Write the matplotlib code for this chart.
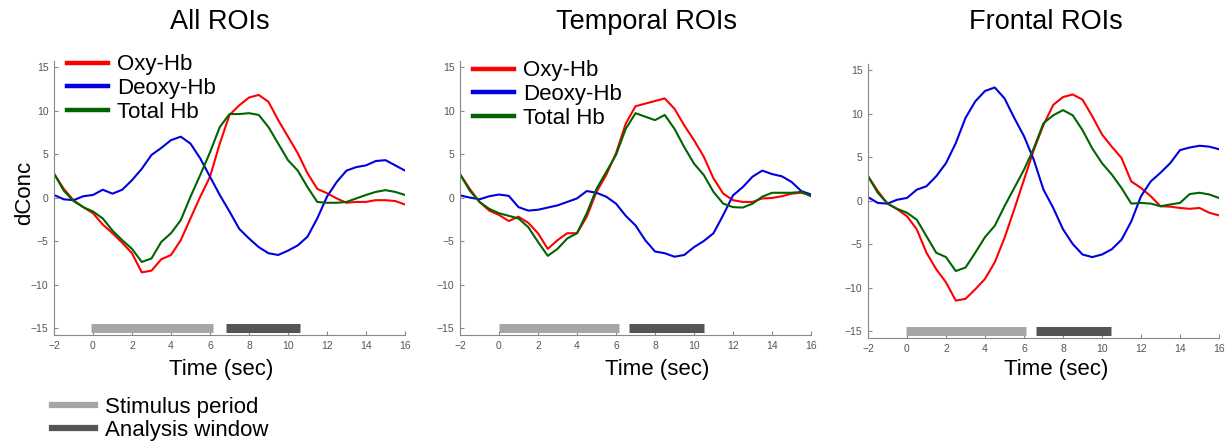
import matplotlib.pyplot as plt
from matplotlib.lines import Line2D

plt.rcParams['font.family'] = ['Liberation Sans', 'DejaVu Sans']

# time grid (sec)
t = [-2, -1.5, -1, -0.5, 0, 0.5, 1, 1.5, 2, 2.5, 3, 3.5, 4, 4.5, 5, 5.5, 6, 6.5,
     7, 7.5, 8, 8.5, 9, 9.5, 10, 10.5, 11, 11.5, 12, 12.5, 13, 13.5, 14, 14.5,
     15, 15.5, 16]

# All ROIs
all_oxy = [2.76, 1.0, -0.3, -1.1, -1.8, -3.1, -4.1, -5.2, -6.4, -8.6, -8.4, -7.1,
           -6.6, -4.9, -2.4, 0.1, 2.4, 6.2, 9.5, 10.6, 11.5, 11.8, 11.0, 8.9, 7.0,
           5.1, 2.8, 1.0, 0.5, -0.1, -0.6, -0.5, -0.5, -0.3, -0.3, -0.4, -0.8]
all_deoxy = [0.3, -0.2, -0.3, 0.15, 0.3, 0.9, 0.45, 0.9, 2.0, 3.3, 4.9, 5.7, 6.6,
             7.0, 6.2, 4.5, 2.4, 0.3, -1.6, -3.6, -4.7, -5.7, -6.4, -6.6, -6.1,
             -5.5, -4.5, -2.4, 0.1, 1.8, 3.1, 3.5, 3.7, 4.2, 4.3, 3.7, 3.1]
all_total = [2.76, 0.8, -0.4, -1.1, -1.6, -2.4, -3.8, -4.9, -5.9, -7.4, -7.0, -5.1,
             -4.1, -2.6, 0.1, 2.6, 5.2, 8.1, 9.6, 9.6, 9.7, 9.5, 8.1, 6.2, 4.3,
             3.1, 1.2, -0.5, -0.6, -0.6, -0.5, -0.1, 0.3, 0.65, 0.85, 0.65, 0.3]

# Temporal ROIs
tmp_oxy = [2.7, 1.0, -0.5, -1.5, -2.0, -2.7, -2.2, -2.9, -4.1, -5.9, -4.9, -4.1,
           -4.1, -2.2, 0.65, 2.6, 5.1, 8.5, 10.5, 10.8, 11.1, 11.4, 10.2, 8.3, 6.6,
           4.7, 2.2, 0.45, -0.3, -0.5, -0.5, -0.1, -0.05, 0.15, 0.45, 0.55, 0.3]
tmp_deoxy = [0.25, 0.0, -0.2, 0.15, 0.35, 0.2, -1.1, -1.5, -1.4, -1.15, -0.9, -0.5,
             -0.1, 0.75, 0.55, 0.1, -0.7, -2.1, -3.2, -4.9, -6.2, -6.4, -6.8, -6.6,
             -5.7, -5.0, -4.1, -2.0, 0.25, 1.2, 2.4, 3.1, 2.7, 2.45, 1.8, 0.75, 0.35]
tmp_total = [2.7, 0.8, -0.5, -1.3, -1.8, -2.1, -2.4, -3.4, -5.1, -6.7, -5.9, -4.7,
             -4.1, -1.8, 1.0, 2.95, 4.9, 7.9, 9.7, 9.3, 8.9, 9.5, 7.9, 5.8, 3.9,
             2.6, 0.65, -0.7, -1.1, -1.15, -0.7, 0.1, 0.55, 0.55, 0.55, 0.65, 0.15]

# Frontal ROIs
fr_oxy = [2.8, 1.1, -0.35, -1.0, -1.8, -3.3, -6.0, -7.9, -9.4, -11.5, -11.3, -10.2,
          -9.0, -7.1, -4.3, -1.0, 2.4, 5.8, 8.7, 11.0, 11.9, 12.2, 11.6, 9.7, 7.6,
          6.2, 4.9, 2.2, 1.45, 0.5, -0.65, -0.7, -0.85, -0.95, -0.85, -1.4, -1.7]
fr_deoxy = [0.4, -0.27, -0.35, 0.1, 0.3, 1.25, 1.65, 2.8, 4.3, 6.6, 9.5, 11.4, 12.6,
            13.0, 11.75, 9.5, 7.4, 4.7, 1.25, -0.85, -3.3, -5.0, -6.2, -6.5, -6.2,
            -5.6, -4.5, -2.4, 0.5, 2.2, 3.2, 4.3, 5.8, 6.1, 6.3, 6.2, 5.9]
fr_total = [2.8, 0.9, -0.35, -0.95, -1.4, -2.2, -4.1, -6.0, -6.5, -8.1, -7.7, -6.0,
            -4.2, -2.9, -0.65, 1.45, 3.55, 6.0, 8.9, 9.8, 10.4, 9.8, 8.1, 6.0, 4.3,
            3.0, 1.45, -0.35, -0.27, -0.35, -0.65, -0.45, -0.27, 0.75, 0.9, 0.7, 0.3]

titles = ['All ROIs', 'Temporal ROIs', 'Frontal ROIs']
oxy = [all_oxy, tmp_oxy, fr_oxy]
deoxy = [all_deoxy, tmp_deoxy, fr_deoxy]
total = [all_total, tmp_total, fr_total]
stim = [(-0.1, 6.15), (0.02, 6.17), (-0.03, 6.1)]
window = [(6.8, 10.6), (6.68, 10.5), (6.63, 10.48)]

W, H = 1226, 442
fig = plt.figure(figsize=(W / 100, H / 100), dpi=100)

# axes boxes in pixels: left, bottom (px from top)
boxes = [(54, 335), (460, 335), (868, 338)]
ax_w, ax_h = 351, 274
title_x = [220, 646, 1046]
xlabel_x = [221, 657, 1056]

for i, (left, bottom) in enumerate(boxes):
    ax = fig.add_axes([left / W, 1 - bottom / H, ax_w / W, ax_h / H])
    ax.plot(t, oxy[i], color='#ff0000', lw=1.5)
    ax.plot(t, deoxy[i], color='#0000e0', lw=1.5)
    ax.plot(t, total[i], color='#006400', lw=1.5)
    ax.hlines(-15, *stim[i], color='#a6a6a6', lw=6.5)
    ax.hlines(-15, *window[i], color='#555555', lw=6.5)

    ax.set_xlim(-2, 16)
    ax.set_ylim(-15.8, 15.7)
    ax.set_xticks(range(-2, 17, 2))
    ax.set_yticks([-15, -10, -5, 0, 5, 10, 15])
    ax.set_xticklabels([str(v).replace('-', '\u2212') for v in range(-2, 17, 2)])
    ax.set_yticklabels([str(v).replace('-', '\u2212') for v in [-15, -10, -5, 0, 5, 10, 15]])
    for s in ['top', 'right']:
        ax.spines[s].set_visible(False)
    for s in ['left', 'bottom']:
        ax.spines[s].set_color('#888888')
    ax.tick_params(direction='in', length=3, width=0.8, color='#888888',
                   labelsize=7.5, labelcolor='#555555', pad=4)

    fig.text(title_x[i] / W, 1 - 22 / H, titles[i], fontsize=19.5,
             ha='center', va='center')
    fig.text(xlabel_x[i] / W, 1 - 370 / H, 'Time (sec)', fontsize=16,
             ha='center', va='center')

    if i < 2:
        top_y = [1.024, 1.002][i]
        leg_handles = [Line2D([], [], color=c, lw=3.2) for c in ['#ff0000', '#0000e0', '#006400']]
        ax.legend(leg_handles, ['Oxy-Hb', 'Deoxy-Hb', 'Total Hb'], loc='upper left',
                  bbox_to_anchor=(0.037, top_y), frameon=False, fontsize=16,
                  handlelength=1.85, handletextpad=0.4, labelspacing=0.12,
                  borderpad=0, borderaxespad=0)

fig.text(25 / W, 1 - 193 / H, 'dConc', fontsize=16, rotation=90,
         ha='center', va='center')

bar_handles = [Line2D([], [], color='#a6a6a6', lw=4.5),
               Line2D([], [], color='#555555', lw=4.5)]
fig.legend(bar_handles, ['Stimulus period', 'Analysis window'], loc='upper left',
           bbox_to_anchor=(52 / W, 1 - 397 / H), frameon=False, fontsize=16,
           handlelength=1.95, handletextpad=0.45, labelspacing=0.1,
           borderpad=0, borderaxespad=0)

fig.savefig('out.png', dpi=100)
